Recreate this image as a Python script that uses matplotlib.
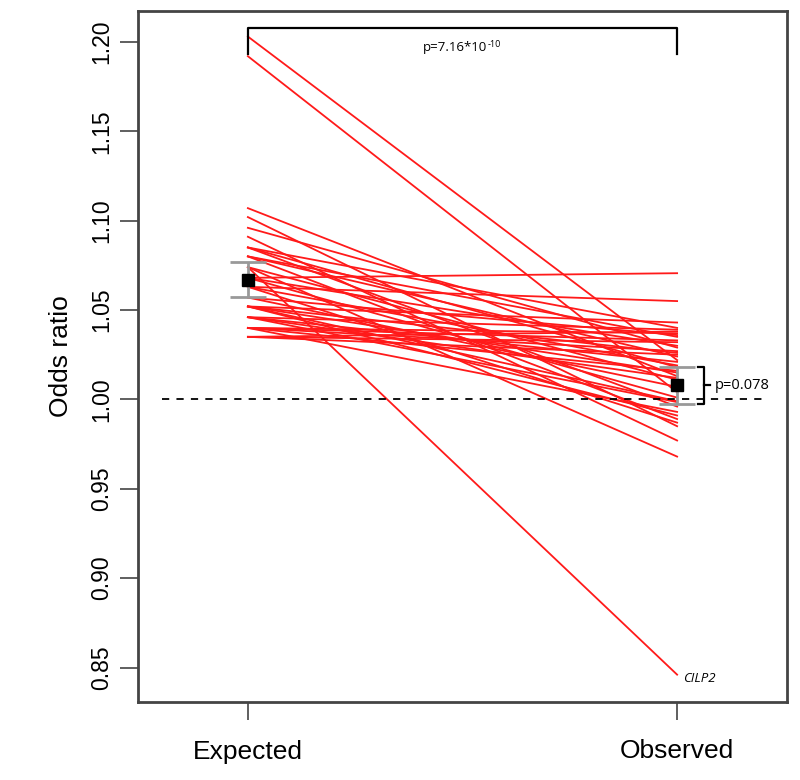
import matplotlib
matplotlib.use("Agg")
import matplotlib.pyplot as plt

# ---- data ----
groups = ["Expected", "Observed"]
expected_or = [1.203, 1.192, 1.074, 1.068, 1.107, 1.102, 1.096, 1.091,
               1.085, 1.085, 1.085, 1.080, 1.080, 1.080, 1.074, 1.074,
               1.068, 1.068, 1.063, 1.063, 1.063, 1.057, 1.057,
               1.052, 1.052, 1.052, 1.052, 1.052,
               1.046, 1.046, 1.046, 1.046,
               1.040, 1.040, 1.040, 1.040, 1.040,
               1.035, 1.035, 1.035]
observed_or = [1.022, 1.004, 0.846, 1.0706, 1.013, 0.985, 1.029, 0.977,
               1.040, 0.996, 1.018, 1.035, 0.989, 1.024, 1.011, 0.968,
               1.030, 1.001, 1.055, 1.019, 0.987, 1.036, 1.007,
               1.043, 1.026, 0.999, 1.015, 0.991,
               1.039, 1.021, 0.9985, 1.012,
               1.037, 1.016, 1.027, 0.993, 1.033,
               1.032, 1.025, 1.038]
mean_or = [1.067, 1.0078]
ci_low = [1.0572, 0.9972]
ci_high = [1.0767, 1.0183]
p_top_base = "p=7.16*10"
p_top_exp = "-10"
p_right = "p=0.078"
gene_label = "CILP2"

fig = plt.figure(figsize=(8, 7.8), dpi=100)
ax = fig.add_axes([0.1725, 0.1, 0.81125, 0.8859])

xpos = [1, 2]
for e, o in zip(expected_or, observed_or):
    ax.plot(xpos, [e, o], color="#ff1a1a", lw=1.3, zorder=2)

yerr = [[m - l for m, l in zip(mean_or, ci_low)],
        [h - m for m, h in zip(mean_or, ci_high)]]
ax.errorbar(xpos, mean_or, yerr=yerr, fmt="s", color="black", ms=9,
            ecolor="#999999", elinewidth=2, capsize=13, capthick=2, zorder=4)

ax.hlines(1.0, 0.8, 2.2, colors="black", linestyles=(0, (4, 4)), lw=1.3, zorder=3)

# top bracket
ax.plot([1.0, 1.0, 2.0, 2.0], [1.1933, 1.2078, 1.2078, 1.1933], color="black", lw=1.6, zorder=3)
ax.text(1.557, 1.1966, p_top_base, ha="right", va="center", fontsize=9.5, family="Open Sans")
ax.text(1.558, 1.1985, p_top_exp, ha="left", va="center", fontsize=6.5, family="Open Sans")

# right bracket
ax.plot([2.049, 2.063, 2.063, 2.049], [1.0183, 1.0183, 0.9972, 0.9972], color="black", lw=1.6, zorder=3)
ax.plot([2.063, 2.077], [1.0078, 1.0078], color="black", lw=1.6, zorder=3)
ax.text(2.088, 1.0080, p_right, ha="left", va="center", fontsize=10.5, family="Open Sans")

ax.text(2.014, 0.8440, gene_label, ha="left", va="center", fontsize=9.5,
        style="italic", family="Open Sans")

ax.set_xlim(0.744, 2.256)
ax.set_ylim(0.8307, 1.2173)
ax.set_xticks(xpos)
ax.set_xticklabels(groups, fontsize=19, family="Liberation Sans")
yt = [0.85, 0.90, 0.95, 1.00, 1.05, 1.10, 1.15, 1.20]
ax.set_yticks(yt)
ax.set_yticklabels([f"{v:.2f}" for v in yt], fontsize=16.5, family="Liberation Sans",
                   rotation=90, va="center")
ax.tick_params(axis="y", length=13, width=1.2, color="#444444", pad=5)
ax.tick_params(axis="x", length=13, width=1.2, color="#444444", pad=14)
ax.set_ylabel("Odds ratio", fontsize=19, family="Liberation Sans", labelpad=12)
for s in ax.spines.values():
    s.set_color("#444444")
    s.set_linewidth(2)

fig.savefig("out.png", dpi=100)
